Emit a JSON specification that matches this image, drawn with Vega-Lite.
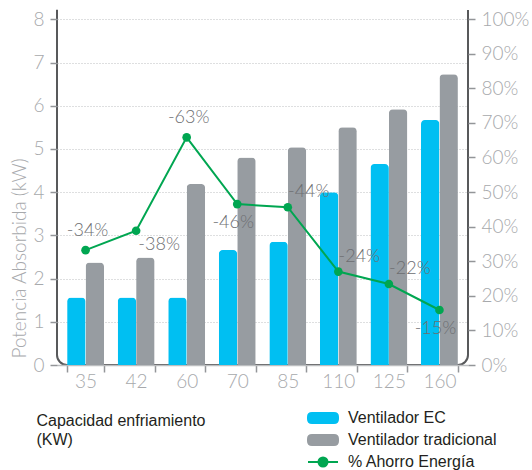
{
  "$schema": "https://vega.github.io/schema/vega-lite/v6.json",
  "width": 411,
  "height": 365,
  "autosize": {"type": "none"},
  "padding": {"left": 57, "top": 0, "right": 64, "bottom": 105},
  "config": {
    "view": {"stroke": "#58595b", "strokeWidth": 2, "cornerRadius": 10, "strokeDash": [0, 406.7, 1112.4, 30]},
    "font": "Lato",
    "axis": {"labelFont": "Lato", "labelFontWeight": 300, "labelColor": "#a7a9ac", "labelFontSize": 19, "tickColor": "#939598", "tickSize": 7, "tickWidth": 1.5}
  },
  "datasets": {
    "bars": [
      {"capacidad": 35, "serie": "Ventilador EC", "kw": 1.56},
      {"capacidad": 35, "serie": "Ventilador tradicional", "kw": 2.37},
      {"capacidad": 42, "serie": "Ventilador EC", "kw": 1.56},
      {"capacidad": 42, "serie": "Ventilador tradicional", "kw": 2.49},
      {"capacidad": 60, "serie": "Ventilador EC", "kw": 1.56},
      {"capacidad": 60, "serie": "Ventilador tradicional", "kw": 4.19},
      {"capacidad": 70, "serie": "Ventilador EC", "kw": 2.66},
      {"capacidad": 70, "serie": "Ventilador tradicional", "kw": 4.8},
      {"capacidad": 85, "serie": "Ventilador EC", "kw": 2.85},
      {"capacidad": 85, "serie": "Ventilador tradicional", "kw": 5.04},
      {"capacidad": 110, "serie": "Ventilador EC", "kw": 4.0},
      {"capacidad": 110, "serie": "Ventilador tradicional", "kw": 5.5},
      {"capacidad": 125, "serie": "Ventilador EC", "kw": 4.65},
      {"capacidad": 125, "serie": "Ventilador tradicional", "kw": 5.92},
      {"capacidad": 160, "serie": "Ventilador EC", "kw": 5.67},
      {"capacidad": 160, "serie": "Ventilador tradicional", "kw": 6.73}
    ],
    "ahorro": [
      {"capacidad": 35, "ahorro": 33.2, "etiqueta": "-34%"},
      {"capacidad": 42, "ahorro": 38.8, "etiqueta": "-38%"},
      {"capacidad": 60, "ahorro": 65.8, "etiqueta": "-63%"},
      {"capacidad": 70, "ahorro": 46.5, "etiqueta": "-46%"},
      {"capacidad": 85, "ahorro": 45.6, "etiqueta": "-44%"},
      {"capacidad": 110, "ahorro": 27.0, "etiqueta": "-24%"},
      {"capacidad": 125, "ahorro": 23.4, "etiqueta": "-22%"},
      {"capacidad": 160, "ahorro": 15.9, "etiqueta": "-15%"}
    ]
  },
  "layer": [
    {
      "data": {"name": "bars"},
      "mark": {"type": "bar", "cornerRadiusTopLeft": 4, "cornerRadiusTopRight": 4},
      "encoding": {
        "x": {
          "field": "capacidad", "type": "ordinal",
          "scale": {"paddingInner": 0.27, "paddingOuter": 0.2},
          "axis": {
            "title": ["Capacidad enfriamiento", "(KW)"],
            "titleFont": "Liberation Sans", "titleFontSize": 16, "titleFontWeight": "normal", "titleColor": "#231f20",
            "titleAlign": "left", "titleBaseline": "top", "titleX": -21, "titleY": 47, "titleLineHeight": 19,
            "labelAngle": 0, "labelPadding": 0, "domainColor": "#bcbec0", "domainWidth": 1.5,
            "tickBand": "extent", "grid": false
          }
        },
        "xOffset": {"field": "serie", "type": "nominal", "sort": ["Ventilador EC", "Ventilador tradicional"]},
        "y": {
          "field": "kw", "type": "quantitative",
          "scale": {"domain": [0, 8.447], "nice": false},
          "axis": {
            "values": [0, 1, 2, 3, 4, 5, 6, 7, 8],
            "title": "Potencia Absorbida (kW)",
            "titleFont": "Lato", "titleFontWeight": 300, "titleFontSize": 19, "titleColor": "#a7a9ac",
            "titleAngle": -90, "titleAlign": "left", "titleBaseline": "alphabetic", "titleX": -32, "titleY": 358,
            "labelPadding": 6, "domain": false,
            "grid": true, "gridColor": "#bcbec0", "gridDash": [1, 2], "gridWidth": 1
          }
        },
        "color": {
          "field": "serie", "type": "nominal",
          "scale": {"domain": ["Ventilador EC", "Ventilador tradicional", "% Ahorro Energía"], "range": ["#00bff2", "#979ca1", "#00a651"]},
          "legend": {
            "orient": "none", "legendX": 248, "legendY": 410, "title": null,
            "labelFont": "Liberation Sans", "labelFontSize": 16, "labelColor": "#231f20",
            "symbolSize": 100, "rowPadding": 4, "labelOffset": 27,
            "encode": {
              "symbols": {
                "update": {
                  "shape": {"signal": "datum.value === '% Ahorro Energía' ? 'M-1,0 L5,0 M2.9,0 A0.9,0.9 0 1 1 1.1,0 A0.9,0.9 0 1 1 2.9,0' : 'M-0.2,-1 L4.2,-1 Q5,-1 5,-0.2 L5,0.2 Q5,1 4.2,1 L-0.2,1 Q-1,1 -1,0.2 L-1,-0.2 Q-1,-1 -0.2,-1 Z'"},
                  "fill": {"signal": "scale('color', datum.value)"},
                  "stroke": {"signal": "datum.value === '% Ahorro Energía' ? '#00a651' : 'transparent'"},
                  "strokeWidth": {"value": 2},
                  "opacity": {"value": 1},
                  "fillOpacity": {"value": 1}
                }
              }
            }
          }
        }
      }
    },
    {
      "data": {"name": "ahorro"},
      "encoding": {
        "x": {"field": "capacidad", "type": "ordinal"},
        "y": {
          "field": "ahorro", "type": "quantitative",
          "scale": {"domain": [0, 105.5], "nice": false},
          "axis": {
            "orient": "right", "title": null,
            "values": [0, 10, 20, 30, 40, 50, 60, 70, 80, 90, 100],
            "labelExpr": "datum.value + '%'",
            "labelPadding": 6, "domain": false, "grid": false
          }
        }
      },
      "layer": [
        {
          "mark": {"type": "line", "strokeWidth": 2, "point": {"filled": true, "size": 75}},
          "encoding": {"color": {"datum": "% Ahorro Energía", "type": "nominal"}}
        },
        {
          "transform": [{"filter": {"field": "capacidad", "oneOf": [35, 60]}}],
          "mark": {"type": "text", "font": "Lato", "fontWeight": 300, "fontSize": 18, "color": "#6d6e71", "align": "center", "baseline": "middle", "dx": 2, "dy": -19},
          "encoding": {"text": {"field": "etiqueta"}}
        },
        {
          "transform": [{"filter": {"field": "capacidad", "oneOf": [42]}}],
          "mark": {"type": "text", "font": "Lato", "fontWeight": 300, "fontSize": 18, "color": "#6d6e71", "align": "center", "baseline": "middle", "dx": 23, "dy": 14},
          "encoding": {"text": {"field": "etiqueta"}}
        },
        {
          "transform": [{"filter": {"field": "capacidad", "oneOf": [85, 110, 125]}}],
          "mark": {"type": "text", "font": "Lato", "fontWeight": 300, "fontSize": 18, "color": "#6d6e71", "align": "center", "baseline": "middle", "dx": 21, "dy": -15},
          "encoding": {"text": {"field": "etiqueta"}}
        },
        {
          "transform": [{"filter": {"field": "capacidad", "oneOf": [70, 160]}}],
          "mark": {"type": "text", "font": "Lato", "fontWeight": 300, "fontSize": 18, "color": "#6d6e71", "align": "center", "baseline": "middle", "dx": -4, "dy": 19},
          "encoding": {"text": {"field": "etiqueta"}}
        }
      ]
    }
  ],
  "resolve": {"scale": {"y": "independent"}}
}
